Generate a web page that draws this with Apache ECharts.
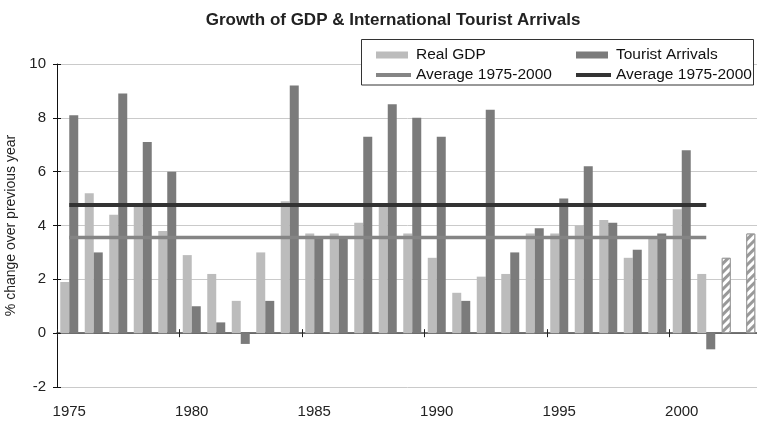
<!DOCTYPE html>
<html>
<head>
<meta charset="utf-8">
<script src="https://cdn.jsdelivr.net/npm/echarts@6/dist/echarts.min.js"></script>
<style>
html,body{margin:0;padding:0;background:#fff;}
#chart{width:757px;height:422px;}
</style>
</head>
<body>
<div id="chart"></div>
<script>
// ---- data ----
const years = ['1975','1976','1977','1978','1979','1980','1981','1982','1983','1984',
               '1985','1986','1987','1988','1989','1990','1991','1992','1993','1994',
               '1995','1996','1997','1998','1999','2000','2001','2002','2003'];
const realGDP = [1.9, 5.2, 4.4, 4.7, 3.8, 2.9, 2.2, 1.2, 3.0, 4.9,
                 3.7, 3.7, 4.1, 4.7, 3.7, 2.8, 1.5, 2.1, 2.2, 3.7,
                 3.7, 4.0, 4.2, 2.8, 3.5, 4.6, 2.2, 2.8, 3.7];
const touristArrivals = [8.1, 3.0, 8.9, 7.1, 6.0, 1.0, 0.4, -0.4, 1.2, 9.2,
                         3.6, 3.6, 7.3, 8.5, 8.0, 7.3, 1.2, 8.3, 3.0, 3.9,
                         5.0, 6.2, 4.1, 3.1, 3.7, 6.8, -0.6, null, null];
const forecastYears = ['2002', '2003'];
const gdpAverage = 3.55;
const arrivalsAverage = 4.76;
const averageSpan = ['1975', '2001'];
const yTicks = {min: -2, max: 10, step: 2};

// ---- chart ----
const GDP_COLOR = '#bcbcbc';
const TA_COLOR = '#7b7b7b';
const GDP_AVG_COLOR = '#858585';
const TA_AVG_COLOR = '#333333';
const HATCH_COLOR = '#999999';
const FONT = '"Liberation Sans", Arial, sans-serif';

const BAR_ICON = 'path://M0,0 L32,0 L32,7 L0,7 Z M35,7';
const LINE_ICON = 'path://M0,0 M0,1.5 L35,1.5 L35,5.5 L0,5.5 Z M35,7';

const gdpData = realGDP.map((v, i) => {
  if (forecastYears.indexOf(years[i]) >= 0) {
    return {
      value: v,
      itemStyle: {
        color: '#ffffff',
        borderColor: HATCH_COLOR,
        borderWidth: 1,
        decal: {
          symbol: 'rect',
          symbolSize: 1,
          color: HATCH_COLOR,
          backgroundColor: '#ffffff',
          dashArrayX: [1, 0],
          dashArrayY: [2.5, 2.5],
          rotation: -Math.PI / 4
        }
      }
    };
  }
  return v;
});

const legendBase = {
  orient: 'vertical', top: 42, z: 10,
  itemWidth: 35, itemHeight: 7, itemGap: 4,
  symbolKeepAspect: true,
  textStyle: {fontFamily: FONT, fontSize: 15.5, color: '#111', lineHeight: 16},
  formatter: n => n.trim()
};

const chart = echarts.init(document.getElementById('chart'), null, {renderer: 'canvas'});
chart.setOption({
  animation: false,
  backgroundColor: '#ffffff',
  title: {
    text: 'Growth of GDP & International Tourist Arrivals',
    left: 388, textAlign: 'center', top: 7,
    textStyle: {fontFamily: FONT, fontWeight: 'bold', fontSize: 17, color: '#222'}
  },
  graphic: [{
    type: 'rect', z: 3,
    shape: {x: 361.5, y: 39.5, width: 392, height: 45.5},
    style: {fill: '#ffffff', stroke: '#333333', lineWidth: 1}
  }],
  legend: [Object.assign({}, legendBase, {
    left: 371,
    data: [{name: 'Real GDP', icon: BAR_ICON}, {name: 'Average 1975-2000', icon: LINE_ICON}]
  }), Object.assign({}, legendBase, {
    left: 571,
    data: [{name: 'Tourist Arrivals', icon: BAR_ICON}, {name: 'Average 1975-2000 ', icon: LINE_ICON}]
  })],
  grid: {left: 57, top: 64, bottom: 35, right: -10.5, containLabel: false, outerBoundsMode: 'none'},
  xAxis: [{
    type: 'category', data: years, position: 'bottom',
    axisLine: {show: false, onZero: false},
    axisTick: {show: false},
    axisLabel: {interval: 4, margin: 17, fontFamily: FONT, fontSize: 15, color: '#222'},
    splitLine: {show: false}
  }, {
    type: 'category', data: years, position: 'bottom',
    axisLine: {show: true, onZero: true, lineStyle: {color: '#4a4a4a', width: 1.5}},
    axisTick: {show: true, interval: 4, length: 4, inside: false, lineStyle: {color: '#222', width: 1}},
    axisLabel: {show: false},
    splitLine: {show: false}
  }, {
    type: 'category', data: years, position: 'bottom',
    axisLine: {show: false, onZero: true},
    axisTick: {show: true, interval: 4, length: 4, inside: true, lineStyle: {color: '#222', width: 1}},
    axisLabel: {show: false},
    splitLine: {show: false}
  }],
  yAxis: [{
    type: 'value', min: yTicks.min, max: yTicks.max, interval: yTicks.step,
    position: 'left',
    name: '% change over previous year', nameLocation: 'middle', nameGap: 36,
    nameTextStyle: {fontFamily: FONT, fontSize: 14, color: '#222'},
    axisLine: {show: true, lineStyle: {color: '#111', width: 1}},
    axisTick: {show: true, length: 4, lineStyle: {color: '#111'}},
    axisLabel: {margin: 11, fontFamily: FONT, fontSize: 15, color: '#222'},
    splitLine: {show: true, lineStyle: {color: '#cacaca', width: 1}}
  }, {
    type: 'value', min: yTicks.min, max: yTicks.max, interval: yTicks.step,
    position: 'left',
    axisLine: {show: false},
    axisTick: {show: true, inside: true, length: 4, lineStyle: {color: '#111'}},
    axisLabel: {show: false},
    splitLine: {show: false}
  }],
  series: [{
    name: 'Real GDP', type: 'bar', xAxisIndex: 0, yAxisIndex: 0,
    data: gdpData, barWidth: 9, barGap: '0%',
    itemStyle: {color: GDP_COLOR}
  }, {
    name: 'Tourist Arrivals', type: 'bar', xAxisIndex: 0, yAxisIndex: 0,
    data: touristArrivals, barWidth: 9, barGap: '0%',
    itemStyle: {color: TA_COLOR}
  }, {
    name: 'Average 1975-2000', type: 'line', xAxisIndex: 0, yAxisIndex: 0,
    data: [[averageSpan[0], gdpAverage], [averageSpan[1], gdpAverage]],
    symbol: 'none', z: 5,
    lineStyle: {color: GDP_AVG_COLOR, width: 3.5},
    itemStyle: {color: GDP_AVG_COLOR}
  }, {
    name: 'Average 1975-2000 ', type: 'line', xAxisIndex: 0, yAxisIndex: 0,
    data: [[averageSpan[0], arrivalsAverage], [averageSpan[1], arrivalsAverage]],
    symbol: 'none', z: 5,
    lineStyle: {color: TA_AVG_COLOR, width: 4},
    itemStyle: {color: TA_AVG_COLOR}
  }]
});
</script>
</body>
</html>
